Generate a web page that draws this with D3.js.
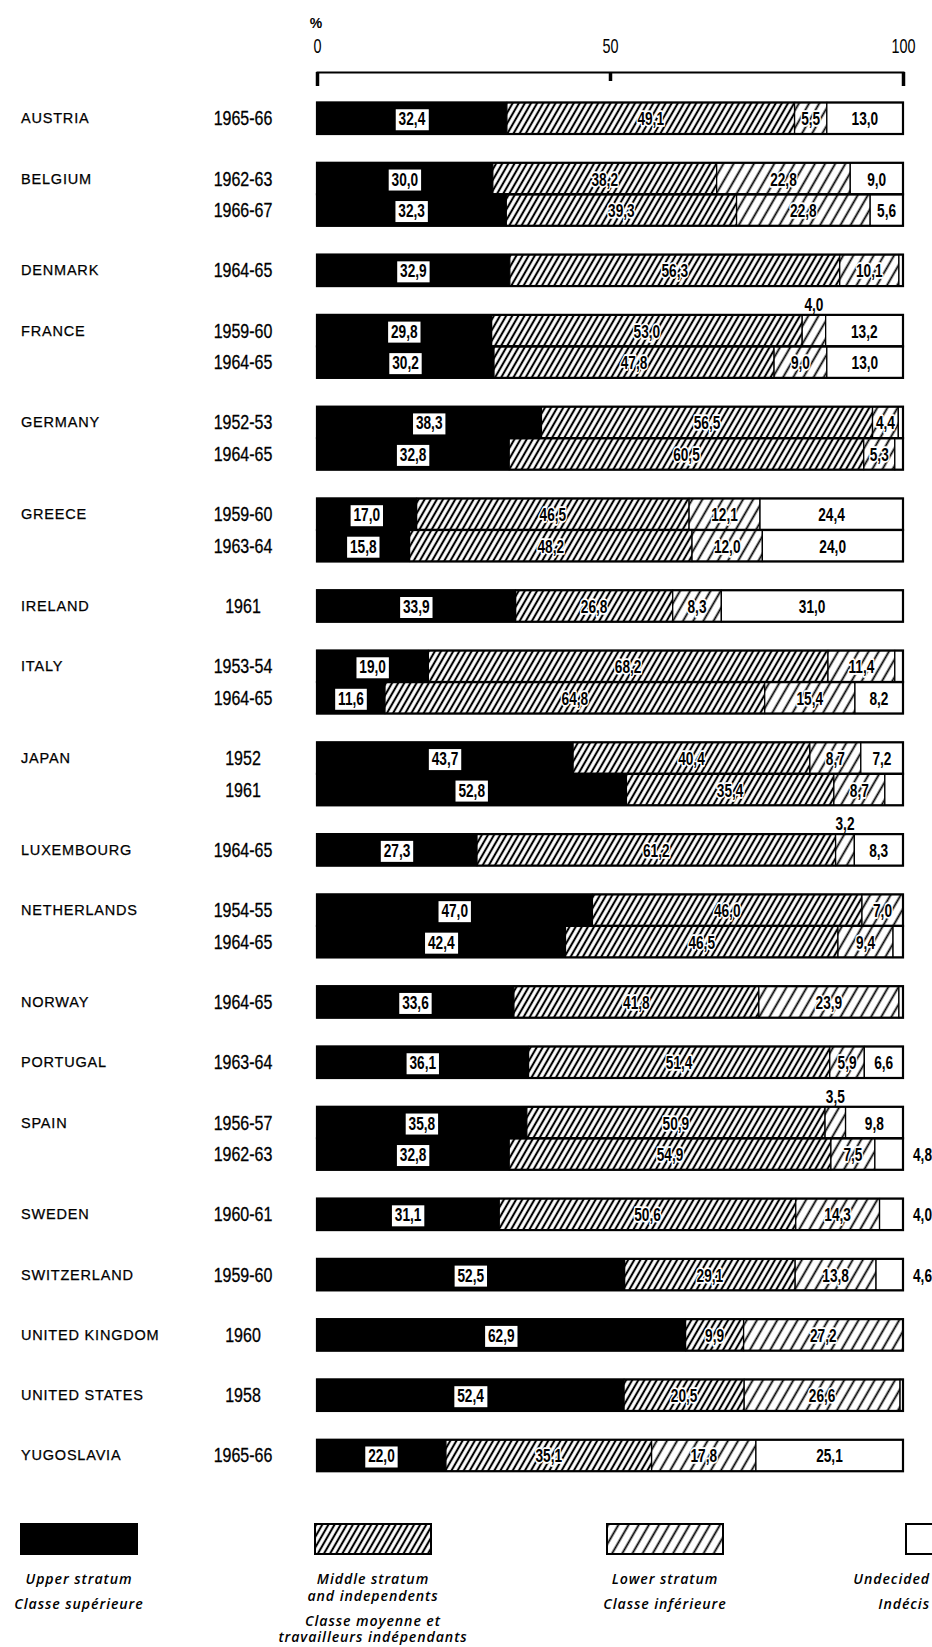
<!DOCTYPE html>
<html><head><meta charset="utf-8">
<script src="https://cdn.jsdelivr.net/npm/d3@7"></script>
<style>
html,body{margin:0;padding:0;background:#fff;}
svg{display:block;}
</style></head><body>
<svg id="chart" width="932" height="1647"></svg>
<script>
// ---------- DATA ----------
const rowCountry = ["AUSTRIA","BELGIUM","BELGIUM","DENMARK","FRANCE","FRANCE","GERMANY","GERMANY","GREECE","GREECE","IRELAND","ITALY","ITALY","JAPAN","JAPAN","LUXEMBOURG","NETHERLANDS","NETHERLANDS","NORWAY","PORTUGAL","SPAIN","SPAIN","SWEDEN","SWITZERLAND","UNITED KINGDOM","UNITED STATES","YUGOSLAVIA"];
const rowPeriod = ["1965-66","1962-63","1966-67","1964-65","1959-60","1964-65","1952-53","1964-65","1959-60","1963-64","1961","1953-54","1964-65","1952","1961","1964-65","1954-55","1964-65","1964-65","1963-64","1956-57","1962-63","1960-61","1959-60","1960","1958","1965-66"];
const upper     = [32.4,30.0,32.3,32.9,29.8,30.2,38.3,32.8,17.0,15.8,33.9,19.0,11.6,43.7,52.8,27.3,47.0,42.4,33.6,36.1,35.8,32.8,31.1,52.5,62.9,52.4,22.0];
const middle    = [49.1,38.2,39.3,56.3,53.0,47.8,56.5,60.5,46.5,48.2,26.8,68.2,64.8,40.4,35.4,61.2,46.0,46.5,41.8,51.4,50.9,54.9,50.6,29.1,9.9,20.5,35.1];
const lower     = [5.5,22.8,22.8,10.1,4.0,9.0,4.4,5.3,12.1,12.0,8.3,11.4,15.4,8.7,8.7,3.2,7.0,9.4,23.9,5.9,3.5,7.5,14.3,13.8,27.2,26.6,17.8];
const undecided = [13.0,9.0,5.6,0.7,13.2,13.0,0.8,1.4,24.4,24.0,31.0,1.4,8.2,7.2,3.1,8.3,0.0,1.7,0.7,6.6,9.8,4.8,4.0,4.6,0.0,0.5,25.1];
const seriesKeys = ["upper","middle","lower","undecided"];
const tickValues = [0,50,100];
const legendLines = [
  ["Upper stratum","Classe supérieure"],
  ["Middle stratum","and independents","Classe moyenne et","travailleurs indépendants"],
  ["Lower stratum","Classe inférieure"],
  ["Undecided","Indécis"]
];

// ---------- SETUP ----------
const W = 932, H = 1647;
const svg = d3.select("#chart");
svg.append("rect").attr("width", W).attr("height", H).attr("fill", "#fff");
const defs = svg.append("defs");
function hatch(id, w, sw) {
  const p = defs.append("pattern").attr("id", id)
    .attr("patternUnits", "userSpaceOnUse")
    .attr("width", w).attr("height", 20)
    .attr("patternTransform", "rotate(30)");
  p.append("rect").attr("width", w).attr("height", 20).attr("fill", "#fff");
  p.append("line").attr("x1", w / 2).attr("x2", w / 2).attr("y1", -2).attr("y2", 22)
    .attr("stroke", "#000").attr("stroke-width", sw);
}
hatch("hMid", 5.3, 2.1);
hatch("hLow", 8.8, 1.8);
const fills = {upper: "#000", middle: "url(#hMid)", lower: "url(#hLow)", undecided: "#fff"};

const x = d3.scaleLinear().domain([0, 100]).range([317, 903]);

// vertical positions: bars are 1 unit, gaps between countries GAP units
const GAP = 0.914;
let gi = -1, prev = null;
const rowUnit = rowCountry.map((c, i) => { if (c !== prev) { gi++; prev = c; } return i + gi * GAP; });
const y = d3.scaleLinear().domain([0, 1]).range([102.5, 134]);
const bh = y(1) - y(0);

const rows = rowCountry.map((c, i) => ({
  i, country: c, period: rowPeriod[i],
  upper: upper[i], middle: middle[i], lower: lower[i], undecided: undecided[i]
}));
const stacked = d3.stack().keys(seriesKeys)(rows);

const fmt = v => v.toFixed(1).replace(".", ",");
const NUMFONT = "'Liberation Sans', Arial, sans-serif";

// ---------- AXIS ----------
const axisG = svg.append("g").attr("transform", "translate(0,72)")
  .call(d3.axisBottom(x).tickValues(tickValues).tickSizeOuter(0).tickSize(14).tickFormat(d3.format("d")));
axisG.select(".domain").attr("stroke", "#000").attr("stroke-width", 2);
axisG.selectAll(".tick line").attr("stroke", "#000").attr("stroke-width", 3.5)
  .attr("y2", d => d === 50 ? 9 : 14);
axisG.selectAll(".tick text")
  .attr("y", -19).attr("dy", 0).attr("x", 0)
  .attr("font-family", NUMFONT).attr("font-size", 20).attr("fill", "#000")
  .attr("transform", "scale(0.72,1)");
svg.append("text").attr("x", x(0) - 1).attr("y", 28)
  .attr("font-family", NUMFONT).attr("font-size", 14).attr("font-weight", "bold")
  .attr("text-anchor", "middle").text("%");

// ---------- BARS ----------
const barsG = svg.append("g");
stacked.forEach(layer => {
  const key = layer.key;
  barsG.selectAll(null).data(layer).enter().append("rect")
    .attr("x", d => x(d[0]))
    .attr("y", d => y(rowUnit[d.data.i]))
    .attr("width", d => Math.max(0, x(d[1]) - x(d[0])))
    .attr("height", bh)
    .attr("fill", fills[key])
    .attr("stroke", "#000").attr("stroke-width", 1.3);
});
barsG.selectAll(null).data(rows).enter().append("rect")
  .attr("x", x(0)).attr("y", d => y(rowUnit[d.i]))
  .attr("width", x(100) - x(0)).attr("height", bh)
  .attr("fill", "none").attr("stroke", "#000").attr("stroke-width", 2.2);

// ---------- VALUE LABELS ----------
const labG = svg.append("g");
const SX = 0.72;
function numLabel(cx, baseY, txt, opts) {
  const g = labG.append("g").attr("transform", `translate(${cx},${baseY}) scale(${SX},1)`);
  const t = g.append("text").attr("x", 0).attr("y", 0)
    .attr("text-anchor", opts.anchor || "middle")
    .attr("font-family", NUMFONT).attr("font-size", 19).attr("font-weight", "bold")
    .attr("fill", "#000").text(txt);
  if (opts.box) {
    const b = t.node().getBBox();
    g.insert("rect", "text").attr("x", b.x - 4).attr("y", -16)
      .attr("width", b.width + 8).attr("height", 21).attr("fill", "#fff");
  }
  if (opts.halo) {
    t.attr("stroke", "#fff").attr("stroke-width", 3.5).attr("paint-order", "stroke")
      .attr("stroke-linejoin", "round");
  }
}
stacked.forEach(layer => {
  const key = layer.key;
  layer.forEach(d => {
    const v = d.data[key];
    const top = y(rowUnit[d.data.i]);
    const cy = top + bh / 2 + 7;
    const cx = (x(d[0]) + x(d[1])) / 2;
    if (key === "upper") {
      numLabel(cx, cy, fmt(v), {box: true});
    } else if (key === "middle") {
      numLabel(cx, cy, fmt(v), {halo: true});
    } else if (key === "lower") {
      if (v <= 4.0) numLabel(cx, top - 4, fmt(v), {});
      else numLabel(cx, cy, fmt(v), {halo: true});
    } else {
      if (v >= 5) numLabel(cx, cy, fmt(v), {});
      else if (v >= 4) numLabel(x(100) + 10, cy, fmt(v), {anchor: "start"});
    }
  });
});

// ---------- ROW LABELS ----------
const leftG = svg.append("g");
rows.forEach((r, i) => {
  const top = y(rowUnit[i]);
  if (i === 0 || rowCountry[i - 1] !== r.country) {
    leftG.append("text").attr("x", 21).attr("y", top + bh / 2 + 5)
      .attr("font-family", NUMFONT).attr("font-size", 14.5).attr("letter-spacing", 0.8)
      .attr("stroke", "#000").attr("stroke-width", 0.25)
      .attr("fill", "#000").text(r.country);
  }
  leftG.append("g").attr("transform", `translate(243,${top + bh / 2 + 7}) scale(0.8,1)`)
    .append("text").attr("text-anchor", "middle")
    .attr("font-family", NUMFONT).attr("font-size", 20)
    .attr("stroke", "#000").attr("stroke-width", 0.3)
    .attr("fill", "#000").text(r.period);
});

// ---------- LEGEND ----------
const legBoxX = [21, 315, 607, 906];
const legTextX = [79, 373, 665, 930];
const legAnchor = ["middle", "middle", "middle", "end"];
const legFills = seriesKeys.map(k => fills[k]);
const legLineY = [[1584, 1609], [1584, 1601, 1626, 1642], [1584, 1609], [1584, 1609]];
const legG = svg.append("g");
legendLines.forEach((lines, k) => {
  legG.append("rect").attr("x", legBoxX[k]).attr("y", 1524).attr("width", 116).attr("height", 30)
    .attr("fill", legFills[k]).attr("stroke", "#000").attr("stroke-width", 2);
  lines.forEach((ln, j) => {
    legG.append("text").attr("x", legTextX[k]).attr("y", legLineY[k][j])
      .attr("text-anchor", legAnchor[k])
      .attr("font-family", "'Open Sans', 'DejaVu Sans', sans-serif")
      .attr("font-style", "italic").attr("font-weight", 600)
      .attr("font-size", 14.2).attr("letter-spacing", 0.9)
      .attr("fill", "#000").text(ln);
  });
});
</script>
</body></html>
